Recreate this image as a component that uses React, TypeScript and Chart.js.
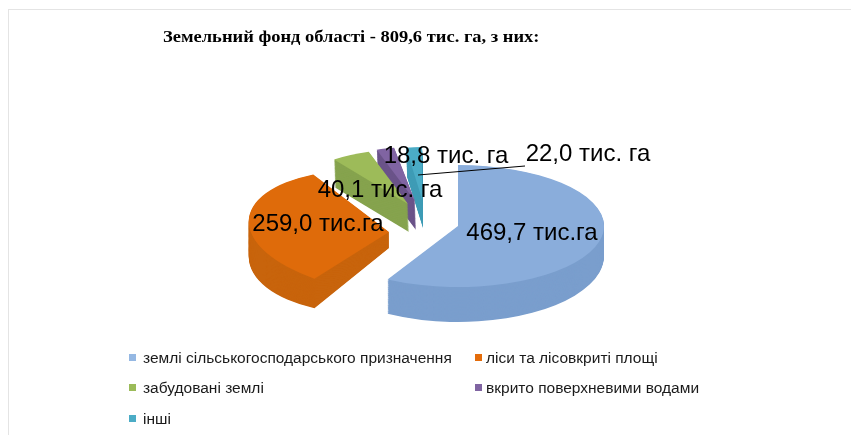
import React, { useEffect, useRef } from "react";
import { Chart, registerables } from "chart.js";

Chart.register(...registerables);

const title = "Земельний фонд області - 809,6 тис. га, з них:";
const categories = [
  "землі сільськогосподарського призначення",
  "ліси та лісовкриті площі",
  "забудовані землі",
  "вкрито поверхневими водами",
  "інші",
];
const values = [469.7, 259.0, 40.1, 18.8, 22.0];
const valueLabels = ["469,7 тис.га", "259,0 тис.га", "40,1 тис. га", "18,8 тис. га", "22,0 тис. га"];
const topColors = ["#8aaddb", "#df6b0a", "#9dbb59", "#8064a2", "#4bacc6"];
const sideColors = ["#7a9ecd", "#c8640c", "#86a34e", "#6a5389", "#3f9cb6"];
const legendColors = ["#95b8e3", "#e46c0a", "#9bbb59", "#8064a2", "#4bacc6"];

// Drawing layout of the exploded pseudo-3D slices: [apexX, apexY, a, b, c, d]
const topFaces = [
  [458, 226, 146, 0, 0, 61],
  [389, 232, 140, -8, 14, 61],
  [408, 204, 126, 0, 0, 55],
  [415, 201, 123, 0, 0, 54],
  [422, 199, 94, 0, 0, 52],
];
const bottomFaces = [
  [458, 256, 146, 0, 0, 66],
  [389, 248, 140, -8, -5, 66],
  [409, 232, 126, 0, 0, 55],
  [416, 230, 123, 0, 0, 54],
  [423, 228, 94, 0, 0, 52],
];
const drawOrder = [4, 3, 2, 1, 0];
const labelPositions = [
  [532, 233],
  [318, 224],
  [380, 190],
  [446, 156],
  [588, 154],
];
const legendPositions = [
  [129, 358],
  [475, 358],
  [129, 388],
  [475, 388],
  [129, 419],
];

const pseudo3d = {
  id: "pseudo3d",
  beforeDatasetDraw() {
    return false;
  },
  beforeDraw(chart: any) {
    const { ctx } = chart;
    ctx.save();
    ctx.fillStyle = "#ffffff";
    ctx.fillRect(0, 0, 851, 435);
    ctx.fillStyle = "#e4e4e4";
    ctx.fillRect(8, 9, 843, 1);
    ctx.fillRect(8, 9, 1, 426);
    ctx.restore();
  },
  afterDatasetsDraw(chart: any) {
    const { ctx } = chart;
    const arcs = chart.getDatasetMeta(0).data;
    const paint = (arc: any, f: number[], color: string) => {
      const R = arc.outerRadius;
      const saved = arc.options;
      arc.options = { ...saved, backgroundColor: color, borderWidth: 0, offset: 0 };
      ctx.save();
      ctx.translate(f[0], f[1]);
      ctx.transform(f[2] / R, f[4] / R, f[3] / R, f[5] / R, 0, 0);
      ctx.translate(-arc.x, -arc.y);
      arc.draw(ctx);
      ctx.restore();
      arc.options = saved;
    };
    drawOrder.forEach((i) => {
      const top = topFaces[i];
      const bottom = bottomFaces[i];
      const steps = 40;
      for (let s = steps; s >= 1; s--) {
        const t = s / steps;
        const f = top.map((v, k) => v + (bottom[k] - v) * t);
        paint(arcs[i], f, sideColors[i]);
      }
      paint(arcs[i], top, topColors[i]);
    });

    ctx.save();
    // leader line
    ctx.strokeStyle = "#000000";
    ctx.lineWidth = 1;
    ctx.beginPath();
    ctx.moveTo(418, 175);
    ctx.lineTo(525, 166);
    ctx.stroke();
    // value labels
    ctx.fillStyle = "#000000";
    ctx.font = '24px "Liberation Sans"';
    ctx.textAlign = "center";
    ctx.textBaseline = "middle";
    valueLabels.forEach((t, i) => ctx.fillText(t, labelPositions[i][0], labelPositions[i][1]));
    // title
    ctx.font = 'bold 17px "Liberation Serif"';
    ctx.textAlign = "left";
    ctx.save();
    ctx.translate(163, 38);
    ctx.scale(1.087, 1);
    ctx.fillText(title, 0, 0);
    ctx.restore();
    // legend
    ctx.font = '15.5px "Liberation Sans"';
    categories.forEach((t, i) => {
      const [x, y] = legendPositions[i];
      ctx.fillStyle = legendColors[i];
      ctx.fillRect(x, y - 4, 7, 7);
      ctx.fillStyle = "#1a1a1a";
      ctx.fillText(t, x + (x > 300 ? 11 : 14), y + 1);
    });
    ctx.restore();
  },
};

export default function App() {
  const ref = useRef<HTMLCanvasElement>(null);
  useEffect(() => {
    const chart = new Chart(ref.current!, {
      type: "pie",
      data: {
        labels: categories,
        datasets: [{ data: values, backgroundColor: topColors, borderWidth: 0 }],
      },
      options: {
        responsive: false,
        animation: false,
        rotation: 0,
        plugins: { legend: { display: false }, title: { display: false }, tooltip: { enabled: false } },
      },
      plugins: [pseudo3d],
    } as any);
    return () => chart.destroy();
  }, []);
  return (
    <canvas
      ref={ref}
      width={851}
      height={435}
      style={{ position: "absolute", left: 0, top: 0, width: 851, height: 435, display: "block" }}
    />
  );
}
